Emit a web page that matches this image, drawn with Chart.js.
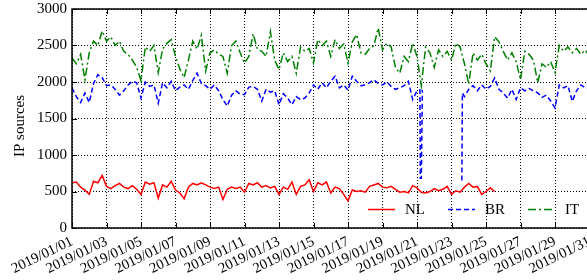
<!DOCTYPE html>
<html><head><meta charset="utf-8">
<script src="https://cdn.jsdelivr.net/npm/chart.js@4"></script>
<style>
html,body{margin:0;padding:0;overflow:hidden;background:#fff;width:587px;height:280px;}
#wrap{position:absolute;left:0;top:0;width:592px;height:280px;}
canvas{display:block;}
</style></head><body>
<div id="wrap"><canvas id="c" width="592" height="280"></canvas></div>
<script>
// time axis: days since 2019/01/01 00:00, sampled every 6 hours
const days = Array.from({length: 121}, (_, i) => i / 4);

const xTickDays = [0, 2, 4, 6, 8, 10, 12, 14, 16, 18, 20, 22, 24, 26, 28, 30];
const xTickLabels = ['2019/01/01','2019/01/03','2019/01/05','2019/01/07','2019/01/09','2019/01/11',
  '2019/01/13','2019/01/15','2019/01/17','2019/01/19','2019/01/21','2019/01/23','2019/01/25',
  '2019/01/27','2019/01/29','2019/01/31'];
const yTicks = [0, 500, 1000, 1500, 2000, 2500, 3000];
const yTitle = 'IP sources';

const seriesNames = ['NL', 'BR', 'IT'];

const nlValues = [
  620, 630, 560, 520,  460, 640, 620, 720,  570, 540, 580, 610,  560, 540, 580, 530,
  460, 630, 600, 620,  410, 590, 560, 640,  520, 480, 400, 560,  610, 590, 620, 590,
  560, 540, 560, 390,  530, 560, 540, 560,  490, 610, 590, 620,  560, 580, 550, 570,
  460, 560, 530, 630,  460, 570, 590, 660,  500, 620, 590, 630,  480, 560, 540, 460,
  370, 520, 500, 510,  490, 570, 590, 610,  560, 550, 570, 530,  490, 500, 480, 580,
  550, 490, 480, 500,  540, 510, 530, 570,  460, 510, 490, 560,  610, 560, 570, 460,
  500, 550, 500
];

const brValues = [
  1920, 1800, 1720, 1850,  1720, 1980, 2100, 2060,  1950, 1960, 1900, 1820,  1880, 1960, 2010, 1990,
  1780, 2000, 1940, 1960,  1710, 1990, 1920, 2010,  1880, 1930, 1960, 1900,  2020, 2120, 1980, 1950,
  1900, 1960, 1880, 1760,  1670, 1820, 1880, 1830,  1830, 1930, 1940, 1900,  1740, 1900, 1860, 1880,
  1690, 1840, 1780, 1690,  1800, 1760, 1780, 1850,  1960, 1900, 1990, 1920,  2010, 2080, 1920, 1960,
  1890, 2080, 2010, 1950,  1960, 1990, 2030, 1980,  1960, 2000, 1940, 1900,  1920, 1950, 2010, 1760,
  1880, 680, null, null,  null, null, null, null,  null, null, null, 1800,  1900, 1950, 1880, 1960,
  1900, 1940, 2055, 1900,  1850, 1780, 1900, 1760,  1920, 1880, 1910, 1880,  1850, 1790, 1820, 1740,
  1645, 1960, 1920, 1950,  1735, 1880, 1960, 1920,  1900
];
// extra BR samples around the outage (drop and recovery)
const brExtraDays = [20.17, 20.19, 20.31, 22.6, 22.63];
const brExtraValues = [1890, 680, 1890, 650, 1850];

const itValues = [
  2330, 2250, 2380, 2030,  2400, 2560, 2500, 2700,  2560, 2620, 2500, 2560,  2420, 2380, 2300, 2200,
  2020, 2480, 2420, 2500,  2130, 2450, 2530, 2580,  2350, 2180, 2060, 2300,  2560, 2450, 2640, 2150,
  2400, 2440, 2380, 2350,  2120, 2500, 2560, 2400,  2260, 2350, 2660, 2450,  2420, 2350, 2690, 2300,
  2170, 2400, 2280, 2350,  2120, 2480, 2420, 2460,  2260, 2580, 2500, 2560,  2350, 2580, 2460, 2520,
  2260, 2550, 2650, 2400,  2380, 2460, 2500, 2740,  2440, 2530, 2480, 2200,  2120, 2350, 2280, 2530,
  2350, 1950, 2480, 2400,  2200, 2440, 2350, 2420,  2300, 2530, 2480, 2250,  1970, 2400, 2300, 2380,
  2250, 2150, 2620, 2550,  2420, 2300, 2400, 2280,  2030, 2420, 2380, 2300,  1990, 2250, 2200, 2280,
  2130, 2500, 2420, 2480,  2400, 2460, 2380, 2440,  2350
];

function toPoints(vals) { return vals.map((v, i) => ({x: days[i], y: v})); }
const brPoints = toPoints(brValues)
  .concat(brExtraDays.map((d, i) => ({x: d, y: brExtraValues[i]})))
  .sort((a, b) => a.x - b.x);

const FAMILY = '"Liberation Serif", "Times New Roman", serif';
const FONT = {family: FAMILY, size: 15};
const XFONT = {family: FAMILY, size: 14.5};

const framePlugin = {
  id: 'gpFrame',
  afterDatasetsDraw(chart) {
    const {ctx, chartArea: a, scales} = chart;
    ctx.save();
    ctx.strokeStyle = '#000';
    ctx.lineWidth = 1.5;
    ctx.setLineDash([]);
    ctx.beginPath();
    ctx.moveTo(a.left, a.top); ctx.lineTo(a.right, a.top);
    ctx.lineTo(a.right, a.bottom); ctx.lineTo(a.left, a.bottom); ctx.closePath();
    ctx.stroke();
    ctx.lineWidth = 1;
    const L = 5;
    ctx.beginPath();
    xTickDays.forEach(d => {
      const px = Math.round(scales.x.getPixelForValue(d)) + 0.5;
      ctx.moveTo(px, a.bottom); ctx.lineTo(px, a.bottom - L);
      ctx.moveTo(px, a.top); ctx.lineTo(px, a.top + L);
    });
    yTicks.forEach(v => {
      const py = Math.round(scales.y.getPixelForValue(v)) + 0.5;
      ctx.moveTo(a.left, py); ctx.lineTo(a.left + L, py);
    });
    ctx.stroke();
    // y axis title
    ctx.save();
    ctx.translate(20, 126);
    ctx.rotate(-Math.PI / 2);
    ctx.fillStyle = '#000';
    ctx.font = '15px "Liberation Serif"';
    ctx.textAlign = 'center';
    ctx.textBaseline = 'middle';
    ctx.fillText(yTitle, 0, 0);
    ctx.restore();
    // key
    chart.data.datasets.forEach((ds, i) => {
      const x0 = 368 + i * 80, y = 209.5;
      ctx.strokeStyle = ds.borderColor;
      ctx.lineWidth = ds.borderWidth;
      ctx.setLineDash(ds.borderDash || []);
      ctx.beginPath(); ctx.moveTo(x0, y); ctx.lineTo(x0 + 27, y); ctx.stroke();
      ctx.setLineDash([]);
      ctx.fillStyle = '#000';
      ctx.font = '15px "Liberation Serif"';
      ctx.textBaseline = 'middle';
      ctx.textAlign = 'left';
      ctx.fillText(ds.label, x0 + 37, y + 1);
    });
    ctx.restore();
  }
};

new Chart(document.getElementById('c'), {
  type: 'line',
  data: {
    datasets: [
      {label: seriesNames[0], data: toPoints(nlValues), borderColor: '#ff0000', borderWidth: 1.5, order: 3},
      {label: seriesNames[1], data: brPoints, borderColor: '#0000ff', borderWidth: 1.5, borderDash: [5, 3], order: 2},
      {label: seriesNames[2], data: toPoints(itValues), borderColor: '#008000', borderWidth: 1.5, borderDash: [8, 3, 2, 3], order: 1}
    ]
  },
  options: {
    responsive: false,
    animation: false,
    devicePixelRatio: 1,
    elements: {point: {radius: 0}, line: {tension: 0, fill: false}},
    layout: {padding: {top: 9, right: 2.5, left: 0, bottom: 0}},
    plugins: {legend: {display: false}, tooltip: {enabled: false}},
    scales: {
      x: {
        type: 'linear', min: 0, max: 30,
        afterBuildTicks: s => { s.ticks = xTickDays.map(v => ({value: v})); },
        ticks: {callback: (v, i) => xTickLabels[i], minRotation: 26, maxRotation: 26, autoSkip: false,
                font: XFONT, color: '#000', padding: 5},
        grid: {color: '#000', lineWidth: 1, drawTicks: false},
        border: {display: false, dash: [1, 2]},
        afterFit: s => { s.height = 52; s.paddingLeft = 0; s.paddingRight = 0; }
      },
      y: {
        min: 0, max: 3000,
        afterBuildTicks: s => { s.ticks = yTicks.map(v => ({value: v})); },
        ticks: {callback: v => String(v), font: FONT, color: '#000', padding: 5},
        grid: {color: '#000', lineWidth: 1, drawTicks: false},
        border: {display: false, dash: [1, 2]},
        afterFit: s => { s.width = 72; s.paddingTop = 0; s.paddingBottom = 0; }
      }
    }
  },
  plugins: [framePlugin]
});
</script>
</body></html>
